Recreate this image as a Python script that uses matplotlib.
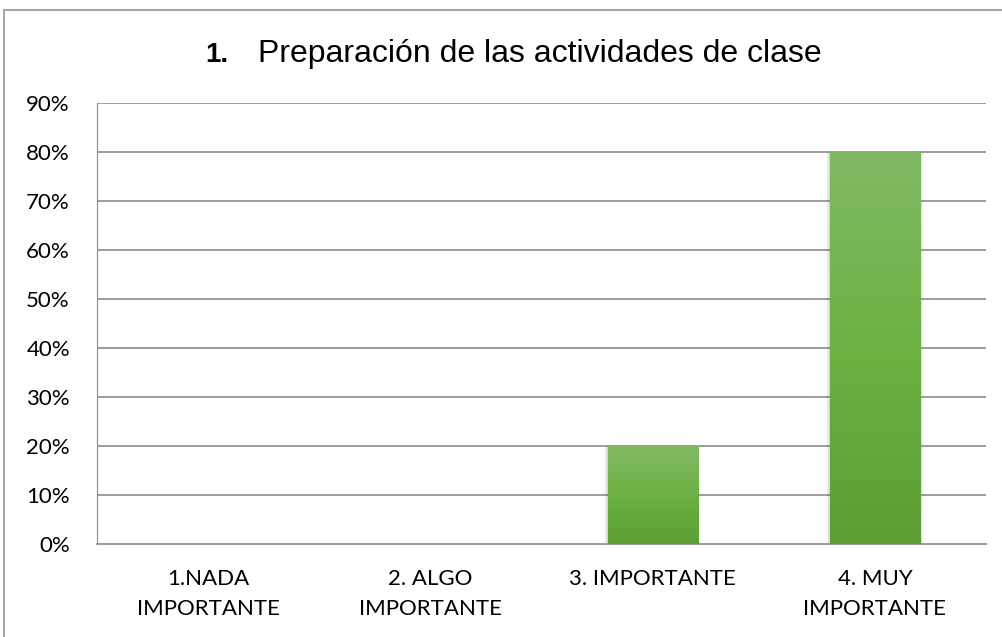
import matplotlib
matplotlib.use("Agg")
import matplotlib.pyplot as plt
import numpy as np
from matplotlib.patches import Rectangle
from matplotlib.colors import LinearSegmentedColormap

categories = ["1.NADA\nIMPORTANTE", "2. ALGO\nIMPORTANTE", "3. IMPORTANTE", "4. MUY\nIMPORTANTE"]
values = [0.0, 0.0, 0.20, 0.80]
yticks = [0, 10, 20, 30, 40, 50, 60, 70, 80, 90]
title_num = "1."
title_text = "Preparación de las actividades de clase"

W, H = 1002, 637
fig = plt.figure(figsize=(W/100, H/100), dpi=100)

# outer chart border (cropped at right/bottom)
fig.patches.append(Rectangle((4/W, -0.05), 1.2, 1 - 10/H + 0.05, transform=fig.transFigure,
                             fill=False, edgecolor="#a6a6a6", linewidth=1.5))

ax = fig.add_axes([97/W, 1 - 544/H, (986-97)/W, (544-103)/H])
x = np.arange(len(categories))
bw = 0.405
bars = ax.bar(x, values, width=bw, color="#6aad41", zorder=3)

grad = np.linspace(0, 1, 256).reshape(-1, 1)
cmap = LinearSegmentedColormap.from_list("g", ["#5c9e34", "#6cb142", "#81b965"])
for b, v in zip(bars, values):
    if v <= 0:
        continue
    x0 = b.get_x()
    for k, a in enumerate([0.10, 0.08, 0.05, 0.03]):
        d = 0.004 * (k + 1)
        ax.add_patch(Rectangle((x0 - d, -0.002), bw + 2 * d, v + 0.001, color="#555555",
                               alpha=a, zorder=2, lw=0))
    im = ax.imshow(grad, extent=(x0, x0 + bw, 0, v), aspect="auto", cmap=cmap,
                   origin="lower", zorder=4)
    im.set_clip_path(b)

ax.set_xlim(-0.5, 3.5)
ax.set_ylim(0, 0.9)
ax.set_yticks([t/100 for t in yticks])
ax.set_yticklabels([f"{t}%" for t in yticks])
ax.set_xticks(x)
ax.set_xticklabels(categories)
ax.grid(axis="y", color="#8c8c8c", linewidth=1.2, zorder=0)
ax.set_axisbelow(True)
for s in ["top", "right"]:
    ax.spines[s].set_visible(False)
ax.spines["left"].set_color("#8c8c8c")
ax.spines["bottom"].set_color("#a0a0a0")
ax.spines["bottom"].set_linewidth(1.5)
ax.tick_params(axis="both", length=0, labelsize=16, colors="#000000")
ax.tick_params(axis="y", pad=19.5)
ax.tick_params(axis="x", pad=18)
for lab in ax.get_xticklabels() + ax.get_yticklabels():
    lab.set_family("Lato")
    lab.set_linespacing(1.6)

fig.text(205/W, 1 - 62/H, title_num, fontsize=20, fontweight="bold", family="Liberation Sans",
         ha="left", va="baseline")
fig.text(258/W, 1 - 62/H, title_text, fontsize=23.0, family="Liberation Sans",
         ha="left", va="baseline")

fig.savefig("out.png", dpi=100)
